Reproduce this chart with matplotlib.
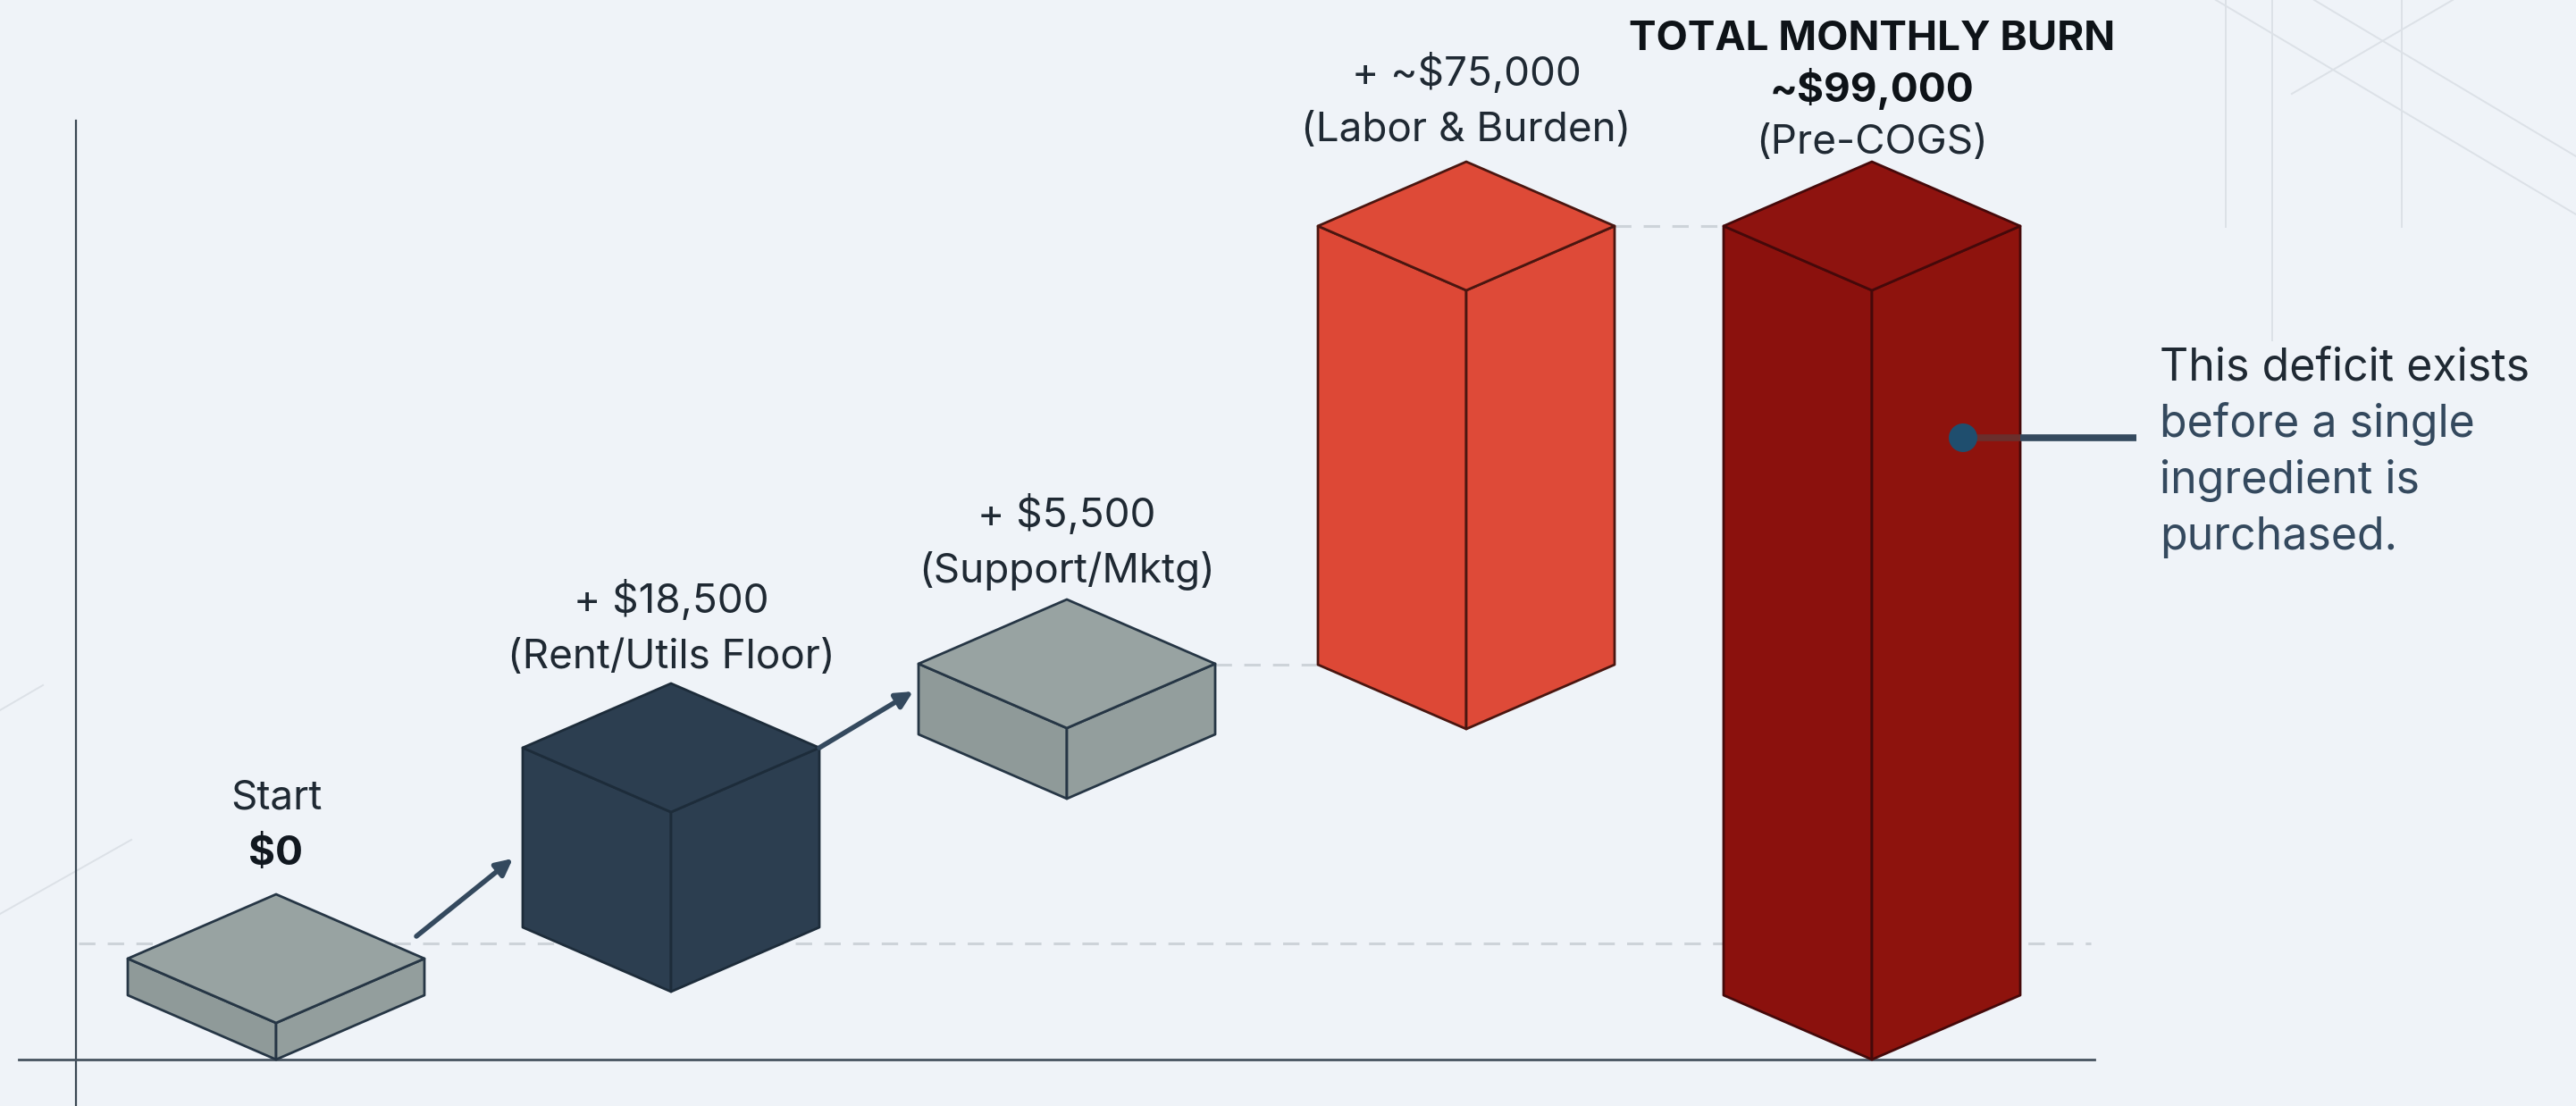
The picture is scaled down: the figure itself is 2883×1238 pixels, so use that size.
import matplotlib
matplotlib.use("Agg")
import matplotlib.pyplot as plt
from matplotlib.patches import Polygon, Circle

plt.rcParams['font.family'] = ['Inter', 'DejaVu Sans']

# monthly cost build-up
amounts = [0, 18500, 5500, 75000, 99000]
block_x = [309, 751, 1194, 1641, 2095]
block_floor = [0, 76, 292, 370, 0]
# blocks are illustrative, taller for a larger amount but not to scale
block_height = [41, 201, 79, 491, 861]
top_colors = ['#98A3A2', '#2C3E50', '#98A3A2', '#DE4A37', '#8E130F']
left_colors = ['#8F9A99', '#2C3E50', '#8F9A99', '#DD4836', '#8B110D']
right_colors = ['#939E9D', '#2C3E50', '#939E9D', '#DE4A38', '#8E130D']
edge_colors = ['#263645', '#1D2C3A', '#263645', '#4A1610', '#45090A']

label_lines = [
    [('Start', 'normal', '#1F2933'), ('$0', 'bold', '#111820')],
    [('+ $18,500', 'normal', '#1F2933'), ('(Rent/Utils Floor)', 'normal', '#1F2933')],
    [('+ $5,500', 'normal', '#1F2933'), ('(Support/Mktg)', 'normal', '#1F2933')],
    [('+ ~$75,000', 'normal', '#1F2933'), ('(Labor & Burden)', 'normal', '#1F2933')],
    [('TOTAL MONTHLY BURN', 'bold', '#0E1318'), ('~$99,000', 'bold', '#0E1318'),
     ('(Pre-COGS)', 'normal', '#1F2933')],
]
note_lines = ['This deficit exists', 'before a single', 'ingredient is', 'purchased.']
note_colors = ['#1F2933', '#34495E', '#34495E', '#34495E']

half_w = 166
rise = 72
baseline_px = 1186

fig = plt.figure(figsize=(28.83, 12.38), dpi=100, facecolor='#EFF3F8')
ax = fig.add_axes([0, 0, 1, 1])
ax.set_xlim(0, 2883)
ax.set_ylim(-(1238 - baseline_px), baseline_px)
ax.axis('off')


def up(y_px):
    return baseline_px - y_px


# faint construction lines behind the chart
faint = '#DCE1E7'
for x0, y0, x1, y1 in [(2491, 0, 2491, 254), (2543, 0, 2543, 381), (2688, 0, 2688, 254),
                       (2480, 0, 2883, 240), (2590, 0, 2883, 175), (2565, 105, 2745, 0),
                       (0, 795, 48, 767), (0, 1023, 147, 940)]:
    ax.plot([x0, x1], [up(y0), up(y1)], color=faint, lw=1.4, zorder=0)

# axes
ax.plot([85, 85], [up(135), up(1238)], color='#3A4753', lw=1.6, zorder=1)
ax.plot([21, 2344], [0, 0], color='#46535F', lw=2.0, zorder=1)

# dashed guides
guide = dict(color='#CDD3D9', lw=2.2, dashes=(6, 4.5), zorder=1)
ax.plot([88, 2340], [up(1056), up(1056)], **guide)
ax.plot([1360, 1475], [up(744), up(744)], **guide)
ax.plot([1807, 1928], [up(253), up(253)], **guide)

# isometric blocks
for i in range(len(amounts)):
    cx, b, h = block_x[i], block_floor[i], block_height[i]
    ec = edge_colors[i]
    front = [(cx, b), (cx, b + h)]
    left = [(cx - half_w, b + rise), (cx - half_w, b + h + rise)]
    right = [(cx + half_w, b + rise), (cx + half_w, b + h + rise)]
    apex = (cx, b + h + 2 * rise)
    ax.add_patch(Polygon([front[0], left[0], left[1], front[1]], fc=left_colors[i],
                         ec=ec, lw=2.0, joinstyle='round', zorder=3))
    ax.add_patch(Polygon([front[0], right[0], right[1], front[1]], fc=right_colors[i],
                         ec=ec, lw=2.0, joinstyle='round', zorder=3))
    ax.add_patch(Polygon([front[1], left[1], apex, right[1]], fc=top_colors[i],
                         ec=ec, lw=2.0, joinstyle='round', zorder=3))

# step arrows
for start, end in [((466, 1048), (574, 961)), ((917, 837), (1022, 774))]:
    ax.annotate('', xy=(end[0], up(end[1])), xytext=(start[0], up(start[1])), zorder=4,
                arrowprops=dict(arrowstyle='-|>,head_length=1.1,head_width=0.55', color='#34495E',
                                lw=4, shrinkA=0, shrinkB=0))

# block labels, bottom line sits just above the apex
label_bottom = [968, 748, 652, 158, 172]
line_gap = [62, 62, 62, 62, 58]
for i, lines in enumerate(label_lines):
    for k, (txt, weight, col) in enumerate(reversed(lines)):
        ax.text(block_x[i], up(label_bottom[i]) + k * line_gap[i], txt, ha='center', va='baseline',
                fontsize=33, fontweight=weight, color=col, zorder=5)

# callout
ax.plot([2197, 2261], [up(490), up(490)], color='#6A2F2C', lw=5.5, zorder=4, solid_capstyle='butt')
ax.plot([2261, 2391], [up(490), up(490)], color='#34495E', lw=5.5, zorder=4, solid_capstyle='butt')
ax.add_patch(Circle((2197, up(490)), 16, fc='#1F4E6E', ec='none', zorder=5))
for k, txt in enumerate(note_lines):
    ax.text(2417, up(426 + k * 63), txt, ha='left', va='baseline', fontsize=36,
            color=note_colors[k], zorder=5)

fig.savefig('out.png', dpi=100, facecolor=fig.get_facecolor())
